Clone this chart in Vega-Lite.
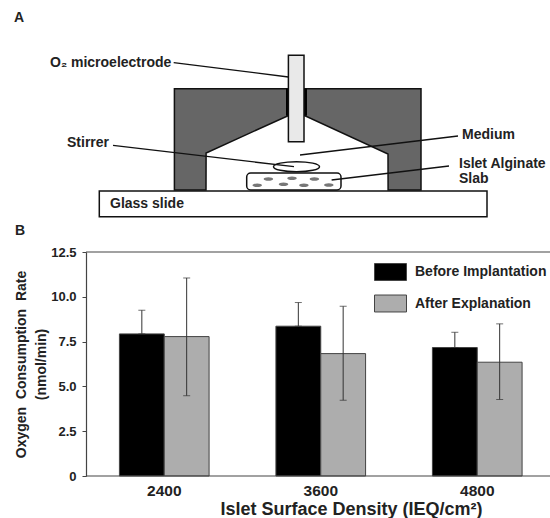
{
"$schema":"https://vega.github.io/schema/vega-lite/v6.json",
"padding":{"left":14,"top":0,"right":0,"bottom":0},
"background":"white",
"bounds":"flush",
"spacing":7,
"config":{"view":{"stroke":null},"font":"Liberation Sans"},
"vconcat":[
{"width":464,"height":245,
 "encoding":{
  "x":{"field":"x","type":"quantitative","axis":null,"scale":{"domain":[86,550],"nice":false,"zero":false}},
  "y":{"field":"y","type":"quantitative","axis":null,"scale":{"domain":[245,0],"nice":false,"zero":false}}
 },
 "layer":[
  {"data":{"values":[
    {"x":174.4,"y":88.7,"y2":190},{"x":206,"y":88.7,"y2":190},{"x":206.1,"y":88.7,"y2":153},
    {"x":288,"y":88.7,"y2":115.7},{"x":305,"y":88.7,"y2":115.7},{"x":388,"y":88.7,"y2":154},
    {"x":388.1,"y":88.7,"y2":190},{"x":421,"y":88.7,"y2":190}]},
   "mark":{"type":"area","fill":"#666666","stroke":"#111111","strokeWidth":1.5},
   "encoding":{"y2":{"field":"y2"}}},
  {"data":{"values":[
    {"part":"seal","x":286,"x2":307,"y":88.7,"y2":115.7}]},
   "mark":{"type":"rect","fill":"#000000"},
   "encoding":{"x2":{"field":"x2"},"y2":{"field":"y2"}}},
  {"data":{"values":[{"part":"electrode","x":288.4,"x2":304,"y":55.3,"y2":141.7}]},
   "mark":{"type":"rect","fill":"#e9e9e9","stroke":"#111111","strokeWidth":1.5},
   "encoding":{"x2":{"field":"x2"},"y2":{"field":"y2"}}},
  {"data":{"values":[{"part":"glass","x":99.3,"x2":487,"y":191,"y2":216.7}]},
   "mark":{"type":"rect","fill":"#ffffff","stroke":"#111111","strokeWidth":1.5},
   "encoding":{"x2":{"field":"x2"},"y2":{"field":"y2"}}},
  {"data":{"values":[{"part":"slab","x":246.7,"x2":341,"y":173,"y2":190}]},
   "mark":{"type":"rect","fill":"#ffffff","stroke":"#111111","strokeWidth":1.5,"cornerRadius":4},
   "encoding":{"x2":{"field":"x2"},"y2":{"field":"y2"}}},
  {"data":{"values":[{"x":268.4,"y":179},{"x":292,"y":178.3},{"x":314.4,"y":179},{"x":257.2,"y":185.3},{"x":283.5,"y":184.3},{"x":303.9,"y":185.3},{"x":328.8,"y":185}]},
   "mark":{"type":"point","shape":"M-1,0A1,0.38,0,1,1,1,0A1,0.38,0,1,1,-1,0Z","size":90,"filled":true,"fill":"#777777","opacity":1,"strokeWidth":0}},
  {"data":{"values":[{"x":296.5,"y":166.7}]},
   "mark":{"type":"point","shape":"M-1,0A1,0.22,0,1,1,1,0A1,0.22,0,1,1,-1,0Z","size":2116,"filled":false,"stroke":"#111111","strokeWidth":1.5,"opacity":1}},
  {"data":{"values":[
    {"lead":"o2","i":1,"x":173.7,"y":62.7},{"lead":"o2","i":2,"x":288.4,"y":77},
    {"lead":"stirrer","i":1,"x":113,"y":145.3},{"lead":"stirrer","i":2,"x":294,"y":166.7},
    {"lead":"medium","i":1,"x":458,"y":136},{"lead":"medium","i":2,"x":300,"y":155},
    {"lead":"islet","i":1,"x":449,"y":166},{"lead":"islet","i":2,"x":331.6,"y":180}]},
   "mark":{"type":"line","stroke":"#111111","strokeWidth":1.3},
   "encoding":{"detail":{"field":"lead"},"order":{"field":"i"}}},
  {"data":{"values":[
    {"t":"A","x":14,"y":18},{"t":"O₂ microelectrode","x":50,"y":63},{"t":"Stirrer","x":67,"y":143},
    {"t":"Medium","x":462,"y":135},{"t":"Islet Alginate","x":459,"y":164},{"t":"Slab","x":459,"y":179},
    {"t":"Glass slide","x":110,"y":204},{"t":"B","x":15,"y":231}]},
   "mark":{"type":"text","align":"left","baseline":"middle","fontWeight":"bold","fontSize":14,"fill":"#222222"},
   "encoding":{"text":{"field":"t"}}}
 ]},
{"width":464,"height":224,
 "data":{"values":[
  {"density":"2400","series":"Before Implantation","rate":7.93,"hi":9.25,"lo":7.93},
  {"density":"2400","series":"After Explanation","rate":7.78,"hi":11.05,"lo":4.48},
  {"density":"3600","series":"Before Implantation","rate":8.36,"hi":9.68,"lo":8.36},
  {"density":"3600","series":"After Explanation","rate":6.83,"hi":9.47,"lo":4.23},
  {"density":"4800","series":"Before Implantation","rate":7.17,"hi":8.02,"lo":7.17},
  {"density":"4800","series":"After Explanation","rate":6.35,"hi":8.49,"lo":4.27}]},
 "encoding":{
  "x":{"field":"density","type":"nominal",
    "scale":{"range":[0,469.5],"paddingInner":0.427,"paddingOuter":0.2135},
    "axis":{"title":"Islet Surface Density (IEQ/cm²)","titleFontSize":18,"titleFontWeight":"bold","titleColor":"#222222","titlePadding":2,"titleX":265,
      "labelAngle":0,"labelFontSize":15.5,"labelFontWeight":"bold","labelColor":"#222222","labelPadding":7,"ticks":false,"domain":false,"grid":false}},
  "xOffset":{"field":"series","type":"nominal","sort":["Before Implantation","After Explanation"],"scale":{"domain":["Before Implantation","After Explanation"]}},
  "y":{"type":"quantitative","scale":{"domain":[0,12.5],"nice":false},
    "axis":{"values":[0,2.5,5,7.5,10,12.5],"labelExpr":"datum.value==0?'0':format(datum.value,'.1f')","grid":false,
      "title":["Oxygen\u00a0\u00a0Consumption\u00a0\u00a0Rate","(nmol/min)"],"titleFontSize":14,"titleLineHeight":20,"titleFontWeight":"bold","titleColor":"#222222","titlePadding":2,
      "labelFontSize":13,"labelFontWeight":"bold","labelColor":"#222222","labelPadding":6,"tickColor":"#444444","tickSize":4,"domainColor":"#444444","domainWidth":1.2}}
 },
 "layer":[
  {"mark":{"type":"bar","stroke":"#444444","strokeWidth":1},
   "encoding":{"y":{"field":"rate","type":"quantitative"},
    "color":{"field":"series","type":"nominal",
      "scale":{"domain":["Before Implantation","After Explanation"],"range":["#000000","#adadad"]},
      "legend":{"title":null,"orient":"none","legendX":288,"legendY":255.5,"symbolType":"M-1,-0.53H1V0.53H-1Z","symbolSize":1024,"symbolStrokeColor":"#444444","symbolStrokeWidth":1,"symbolOpacity":1,"labelFontSize":14,"labelFontWeight":"bold","labelColor":"#222222","labelOffset":8,"rowPadding":4.5}}}},
  {"mark":{"type":"rule","color":"#333333","strokeWidth":1},
   "encoding":{"y":{"field":"lo","type":"quantitative"},"y2":{"field":"hi"}}},
  {"mark":{"type":"tick","color":"#333333","size":7,"thickness":1},
   "encoding":{"y":{"field":"hi","type":"quantitative"}}},
  {"mark":{"type":"tick","color":"#333333","size":7,"thickness":1},
   "encoding":{"y":{"field":"lo","type":"quantitative"}}},
  {"data":{"values":[{"edge":12.5},{"edge":0}]},
   "mark":{"type":"rule","color":"#444444","strokeWidth":1.2},
   "encoding":{"x":null,"xOffset":null,"y":{"field":"edge","type":"quantitative"}}}
 ]}
]}
